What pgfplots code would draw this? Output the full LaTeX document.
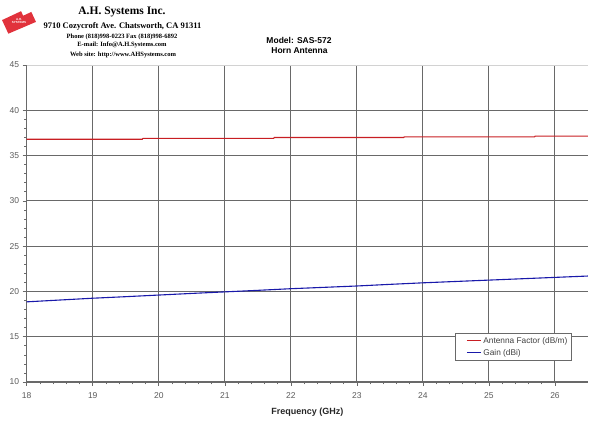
\documentclass[border=0pt]{standalone}
\usepackage{pgfplots}
\pgfplotsset{compat=1.18}
\usepackage{fontspec}
\setmainfont{Liberation Sans}
\newfontfamily\timesf{Liberation Serif}
\definecolor{afred}{RGB}{200,30,35}
\definecolor{gainblue}{RGB}{25,25,170}
\definecolor{gridc}{RGB}{105,105,105}
\definecolor{tickc}{RGB}{90,90,90}
\definecolor{logored}{RGB}{225,50,60}
\begin{document}
\begin{tikzpicture}[x=1pt,y=1pt]
\useasboundingbox (0,0) rectangle (600,428);
\begin{axis}[
  at={(26.7pt,46pt)}, anchor=south west,
  scale only axis, width=561.3pt, height=317pt,
  xmin=18, xmax=26.5, ymin=10, ymax=45,
  xtick={18,19,...,26}, ytick={10,15,...,40},
  extra y ticks={45}, extra y tick style={grid=none},
  minor x tick num=4, minor y tick num=4,
  axis x line*=bottom, axis y line*=left,
  axis line style={gridc, line width=0.8pt, -},
  tick align=outside, major tick length=4pt, minor tick length=2.5pt,
  tick style={gridc, line width=0.6pt},
  grid=major, major grid style={gridc, line width=1pt},
  tick label style={font=\fontsize{8.5}{10}\selectfont, text=tickc},
  xticklabel style={yshift=-3pt},
  /pgf/number format/assume math mode=true,
  xlabel={\bfseries Frequency (GHz)},
  xlabel style={font=\fontsize{9}{11}\selectfont, text=black!85, yshift=-3pt},
  legend style={at={(0.763,0.1536)}, anchor=north west, draw=gridc,
    line width=0.5pt, font=\fontsize{8.3}{9.5}\selectfont, text=black!75,
    inner xsep=2pt, inner ysep=2pt, row sep=0pt, cells={anchor=west}},
  legend image code/.code={\path (0pt,0pt); \draw[#1, line width=1.2pt] (9pt,0.6pt) -- (23pt,0.6pt);},
]
\draw[gray!35, line width=0.8pt] (rel axis cs:0,1) -- (rel axis cs:1,1) -- (rel axis cs:1,0);
\addplot[afred, line width=1.1pt] coordinates {
(18,36.8) (19.75,36.8) (19.76,36.9) (21.74,36.9) (21.75,37.0)
(23.71,37.0) (23.72,37.07) (25.69,37.07) (25.7,37.15) (26.5,37.15)};
\addlegendentry{Antenna Factor (dB/m)}
\addplot[gainblue, line width=1.1pt] coordinates {
(18,18.85) (18.5,19.05) (19,19.25) (19.5,19.42) (20,19.6) (20.5,19.78)
(21,19.95) (21.5,20.12) (22,20.3) (22.5,20.45) (23,20.6) (23.5,20.78)
(24,20.95) (24.5,21.1) (25,21.25) (25.5,21.4) (26,21.55) (26.5,21.7)};
\addlegendentry{Gain (dBi)}
\end{axis}
% header
\node[font=\timesf\bfseries\fontsize{11.5}{13}\selectfont] at (122,416) {A.H. Systems Inc.};
\node[font=\timesf\bfseries\fontsize{8.5}{10}\selectfont] at (122.5,401.5) {9710 Cozycroft Ave. Chatsworth, CA 91311};
\node[font=\timesf\bfseries\fontsize{6.5}{8}\selectfont] at (122,391.3) {Phone (818)998-0223 Fax (818)998-6892};
\node[font=\timesf\bfseries\fontsize{6.5}{8}\selectfont] at (122,383) {E-mail: Info@A.H.Systems.com};
\node[font=\timesf\bfseries\fontsize{6.5}{8}\selectfont] at (123,373.5) {Web site: http://www.AHSystems.com};
\node[font=\bfseries\fontsize{8.5}{10}\selectfont] at (299,388) {Model: SAS-572};
\node[font=\bfseries\fontsize{8.5}{10}\selectfont] at (299.5,377.5) {Horn Antenna};
% logo
\begin{scope}[shift={(19,407)}, rotate=25]
\fill[logored] (-15,-7) -- (-15,8) -- (6,8) -- (6,3) -- (15,3) -- (15,-8) -- cycle;
\node[white, font=\bfseries\fontsize{3}{3}\selectfont, align=center] at (0,0) {A.H.\\SYSTEMS};
\end{scope}
\end{tikzpicture}
\end{document}
